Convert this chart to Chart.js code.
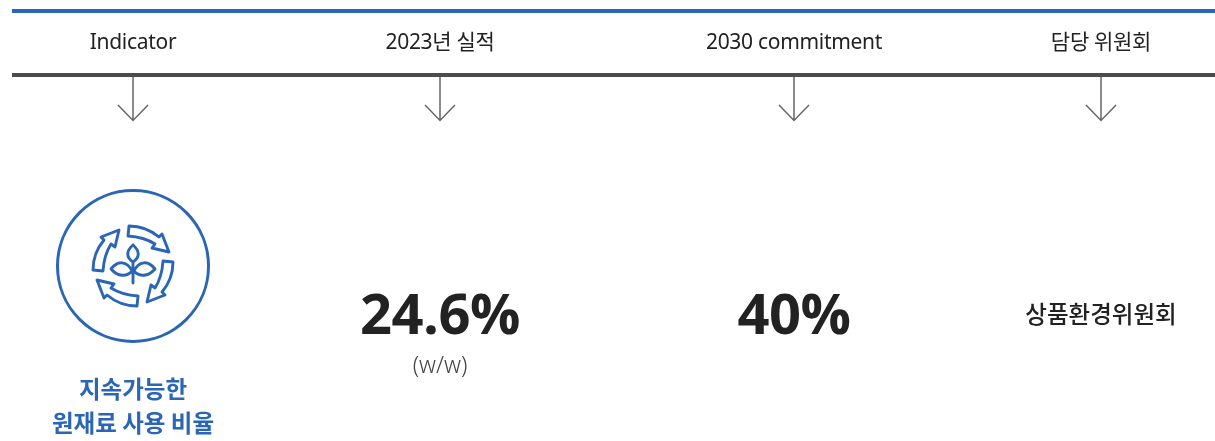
<!DOCTYPE html>
<html>
<head>
<meta charset="utf-8">
<style>
html, body { margin: 0; padding: 0; background: #fff; }
#wrap { width: 1215px; height: 441px; }
</style>
<script src="https://cdn.jsdelivr.net/npm/chart.js@4"></script>
</head>
<body>
<div id="wrap"><canvas id="chart" width="1215" height="441"></canvas></div>
<script>
const headers = ["Indicator", "2023년 실적", "2030 commitment", "담당 위원회"];
const indicatorLines = ["지속가능한", "원재료 사용 비율"];
const actualValues = [24.6];
const commitmentValues = [40];
const valueUnit = "%";
const actualNote = "(w/w)";
const committee = "상품환경위원회";

// layout, in page pixels
const columnX = [133, 440, 794, 1101];
const BLUE = "#2a66b5";
const DARK = "#222222";
const RULE = "#4d4b4b";
const FONT = '"Noto Sans", "Noto Sans CJK KR", sans-serif';
const FONT_KR = '"Noto Sans CJK KR", sans-serif';
const FONT_BIG = '"Open Sans", sans-serif';

function drawText(ctx, text, x, y, font, color, spacing) {
    ctx.font = font;
    ctx.fillStyle = color;
    ctx.letterSpacing = (spacing || 0) + "px";
    ctx.textAlign = "center";
    ctx.textBaseline = "alphabetic";
    ctx.fillText(text, x, y);
    ctx.letterSpacing = "0px";
}

function drawIcon(ctx, cx, cy) {
    ctx.save();
    ctx.translate(cx, cy);
    ctx.strokeStyle = BLUE;
    ctx.lineJoin = "round";
    ctx.lineCap = "round";
    ctx.lineWidth = 3;
    ctx.beginPath();
    ctx.arc(0, 0, 75.5, 0, Math.PI * 2);
    ctx.stroke();

    // four block arrows, one shape turned by quarters
    ctx.lineWidth = 2.9;
    for (let i = 0; i < 4; i++) {
        ctx.save();
        ctx.rotate(i * Math.PI / 2);
        ctx.beginPath();
        ctx.moveTo(-4, -40);
        ctx.quadraticCurveTo(13, -40, 26, -29);
        ctx.lineTo(29, -32);
        ctx.lineTo(36, -14);
        ctx.lineTo(19, -18);
        ctx.lineTo(22, -22);
        ctx.quadraticCurveTo(11, -29, -5, -30);
        ctx.closePath();
        ctx.stroke();
        ctx.restore();
    }

    // sprout
    ctx.beginPath();
    ctx.moveTo(0, -21);
    ctx.bezierCurveTo(7, -15, 7, -9, 0, -4);
    ctx.bezierCurveTo(-7, -9, -7, -15, 0, -21);
    ctx.moveTo(0, -4);
    ctx.lineTo(0, 17);
    ctx.moveTo(-1, 5);
    ctx.bezierCurveTo(-6, -5, -15, -6, -22, 3);
    ctx.bezierCurveTo(-15, 11, -6, 11, -1, 5);
    ctx.moveTo(1, 5);
    ctx.bezierCurveTo(6, -5, 15, -6, 22, 3);
    ctx.bezierCurveTo(15, 11, 6, 11, 1, 5);
    ctx.stroke();
    ctx.restore();
}

const tablePlugin = {
    id: "tablePlugin",
    afterDraw(chart) {
        const ctx = chart.ctx;
        const sx = chart.scales.x;
        const sy = chart.scales.y;
        ctx.save();

        // top and header rules
        ctx.fillStyle = BLUE;
        ctx.fillRect(sx.getPixelForValue(12), sy.getPixelForValue(9), 1203, 4);
        ctx.fillStyle = RULE;
        ctx.fillRect(sx.getPixelForValue(12), sy.getPixelForValue(73), 1203, 4);

        headers.forEach((h, i) => {
            const x = sx.getPixelForValue(columnX[i]);
            drawText(ctx, h, x, sy.getPixelForValue(48.5), '400 21px ' + FONT, DARK, -0.3);

            // arrow under each header
            ctx.strokeStyle = "#666666";
            ctx.lineWidth = 1.5;
            ctx.beginPath();
            ctx.moveTo(x, sy.getPixelForValue(77));
            ctx.lineTo(x, sy.getPixelForValue(120));
            ctx.moveTo(x - 15, sy.getPixelForValue(105));
            ctx.lineTo(x, sy.getPixelForValue(120.5));
            ctx.lineTo(x + 15, sy.getPixelForValue(105));
            ctx.stroke();
        });

        drawIcon(ctx, sx.getPixelForValue(columnX[0]), sy.getPixelForValue(266));
        drawText(ctx, indicatorLines[0], sx.getPixelForValue(columnX[0]), sy.getPixelForValue(398), '700 23.5px ' + FONT_KR, BLUE);
        drawText(ctx, indicatorLines[1], sx.getPixelForValue(columnX[0]), sy.getPixelForValue(432), '700 23.5px ' + FONT_KR, BLUE);

        drawText(ctx, actualValues[0] + valueUnit, sx.getPixelForValue(columnX[1]), sy.getPixelForValue(334), '700 56px ' + FONT_BIG, DARK, -0.5);
        drawText(ctx, actualNote, sx.getPixelForValue(columnX[1]), sy.getPixelForValue(373), '300 23px ' + FONT, "#444444");
        drawText(ctx, commitmentValues[0] + valueUnit, sx.getPixelForValue(columnX[2]), sy.getPixelForValue(334), '700 56px ' + FONT_BIG, DARK, -0.5);
        drawText(ctx, committee, sx.getPixelForValue(columnX[3]), sy.getPixelForValue(323), '500 23.5px ' + FONT_KR, DARK);

        ctx.restore();
    }
};

new Chart(document.getElementById("chart"), {
    type: "scatter",
    data: { datasets: [] },
    options: {
        responsive: false,
        animation: false,
        layout: { padding: 0 },
        plugins: { legend: { display: false }, tooltip: { enabled: false } },
        scales: {
            x: { type: "linear", min: 0, max: 1215, display: false },
            y: { type: "linear", min: 0, max: 441, reverse: true, display: false }
        }
    },
    plugins: [tablePlugin]
});
</script>
</body>
</html>
